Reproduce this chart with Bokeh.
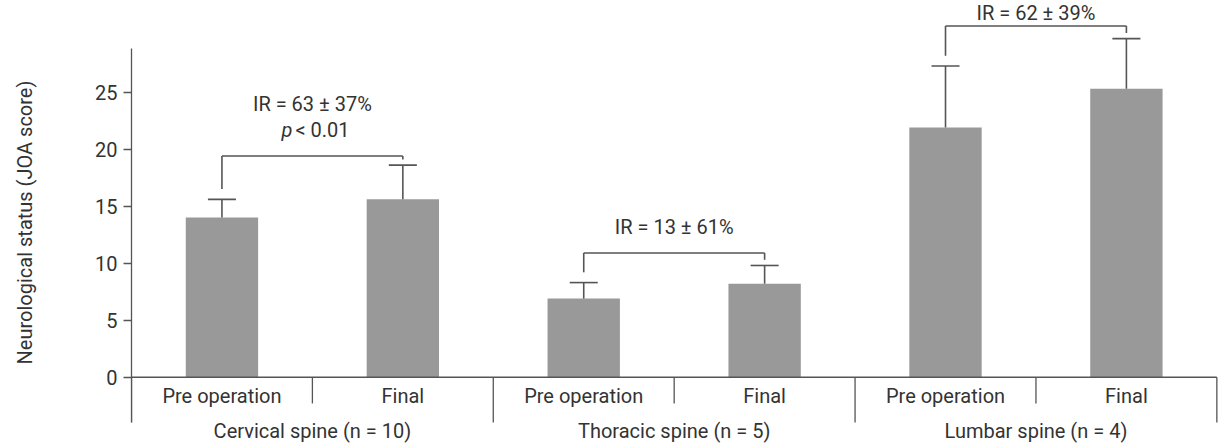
from bokeh.plotting import figure
from bokeh.models import Range1d, FixedTicker, ColumnDataSource
from bokeh.core.properties import value
from bokeh.embed import file_html
from bokeh.resources import INLINE

# Spine regions and measurement stages
groups = ["Cervical spine (n = 10)", "Thoracic spine (n = 5)", "Lumbar spine (n = 4)"]
stages = ["Pre operation", "Final"]

# JOA score means and upper SD per bar (region x stage, in order)
means = [14.0, 15.6, 6.9, 8.2, 21.9, 25.3]
sds = [1.6, 3.0, 1.4, 1.6, 5.4, 4.4]

# Recovery-rate labels and the bracket level for each region
ir_labels = ["IR = 63 ± 37%", "IR = 13 ± 61%", "IR = 62 ± 39%"]
bracket_levels = [19.4, 10.9, 30.8]
p_labels = ["< 0.01", None, None]

y_ticks = [0, 5, 10, 15, 20, 25]

FONT = value("Roboto")
TEXT_COLOR = "#333333"
LINE_COLOR = "#555555"
BAR_COLOR = "#999999"

n_bars = len(groups) * len(stages)
bar_x = [i + 0.5 for i in range(n_bars)]
caps = [m + s for m, s in zip(means, sds)]

p = figure(
    width=1231, height=444,
    x_range=Range1d(0, 6.081), y_range=Range1d(-5.90, 33.04),
    output_backend="svg", toolbar_location=None,
    min_border_left=131, min_border_right=0, min_border_top=0, min_border_bottom=0,
)
p.outline_line_color = None
p.xgrid.visible = False
p.ygrid.visible = False
p.xaxis.visible = False
p.background_fill_color = "white"
p.border_fill_color = "white"

# y axis
ya = p.yaxis[0]
ya.ticker = FixedTicker(ticks=y_ticks)
ya.bounds = (-3.97, 28.8)
ya.axis_line_color = LINE_COLOR
ya.axis_line_width = 1.3
ya.major_tick_line_color = LINE_COLOR
ya.major_tick_line_width = 1.3
ya.major_tick_out = 8
ya.major_tick_in = 0
ya.minor_tick_line_color = None
ya.major_label_standoff = 6
ya.major_label_text_font = "Roboto"
ya.major_label_text_font_size = "20px"
ya.major_label_text_color = TEXT_COLOR
ya.axis_label = "Neurological status (JOA score)"
ya.axis_label_text_font = "Roboto"
ya.axis_label_text_font_size = "20px"
ya.axis_label_text_font_style = "normal"
ya.axis_label_text_color = TEXT_COLOR
ya.axis_label_standoff = 55

# bars
src = ColumnDataSource(dict(x=bar_x, top=means, cap=caps))
p.vbar(x="x", top="top", bottom=0, width=0.40, source=src,
       fill_color=BAR_COLOR, line_color=None)

# upper error whiskers with caps
half_cap = 0.0775
p.segment(x0="x", y0="top", x1="x", y1="cap", source=src,
          line_color=LINE_COLOR, line_width=1.6)
p.segment(x0=[x - half_cap for x in bar_x], y0=caps,
          x1=[x + half_cap for x in bar_x], y1=caps,
          line_color=LINE_COLOR, line_width=1.6)

# horizontal baseline
p.segment(x0=[0], y0=[0], x1=[n_bars], y1=[0], line_color=LINE_COLOR, line_width=1.3)

# separators below the baseline: short between stages, long between regions
inner = [2 * g + 1 for g in range(len(groups))]
outer = [2 * g for g in range(len(groups) + 1)]
p.segment(x0=inner, y0=[0] * len(inner), x1=inner, y1=[-2.3] * len(inner),
          line_color=LINE_COLOR, line_width=1.3)
p.segment(x0=outer, y0=[0] * len(outer), x1=outer, y1=[-3.97] * len(outer),
          line_color=LINE_COLOR, line_width=1.3)

# category labels
p.text(x=bar_x, y=[-1.69] * n_bars, text=stages * len(groups),
       text_font=FONT, text_font_size="20px", text_color=TEXT_COLOR,
       text_align="center", text_baseline="middle")
p.text(x=inner, y=[-4.68] * len(groups), text=groups,
       text_font=FONT, text_font_size="20px", text_color=TEXT_COLOR,
       text_align="center", text_baseline="middle")

# comparison brackets between pre-operation and final bars
gap_left, gap_right = 0.9, 0.5
bx0, by0, bx1, by1 = [], [], [], []
for g, level in enumerate(bracket_levels):
    xl, xr = bar_x[2 * g], bar_x[2 * g + 1]
    bx0 += [xl, xl, xr]
    by0 += [caps[2 * g] + gap_left, level, level]
    bx1 += [xl, xr, xr]
    by1 += [level, level, caps[2 * g + 1] + gap_right]
p.segment(x0=bx0, y0=by0, x1=bx1, y1=by1, line_color=LINE_COLOR, line_width=1.6)

# recovery-rate labels (pixel offsets above each bracket)
ir_offsets = [-52, -26, -13]
for g, (lab, level, off) in enumerate(zip(ir_labels, bracket_levels, ir_offsets)):
    p.text(x=[inner[g]], y=[level], text=[lab], y_offset=off,
           text_font=FONT, text_font_size="20px", text_color=TEXT_COLOR,
           text_align="center", text_baseline="middle")
    if p_labels[g]:
        p.text(x=[inner[g]], y=[level], text=["p"], y_offset=-26, x_offset=-20,
               text_font=FONT, text_font_size="20px", text_font_style="italic",
               text_color=TEXT_COLOR, text_align="right", text_baseline="middle")
        p.text(x=[inner[g]], y=[level], text=[p_labels[g]], y_offset=-26, x_offset=-17,
               text_font=FONT, text_font_size="20px", text_color=TEXT_COLOR,
               text_align="left", text_baseline="middle")

open("out.html", "w").write(file_html(p, INLINE))
